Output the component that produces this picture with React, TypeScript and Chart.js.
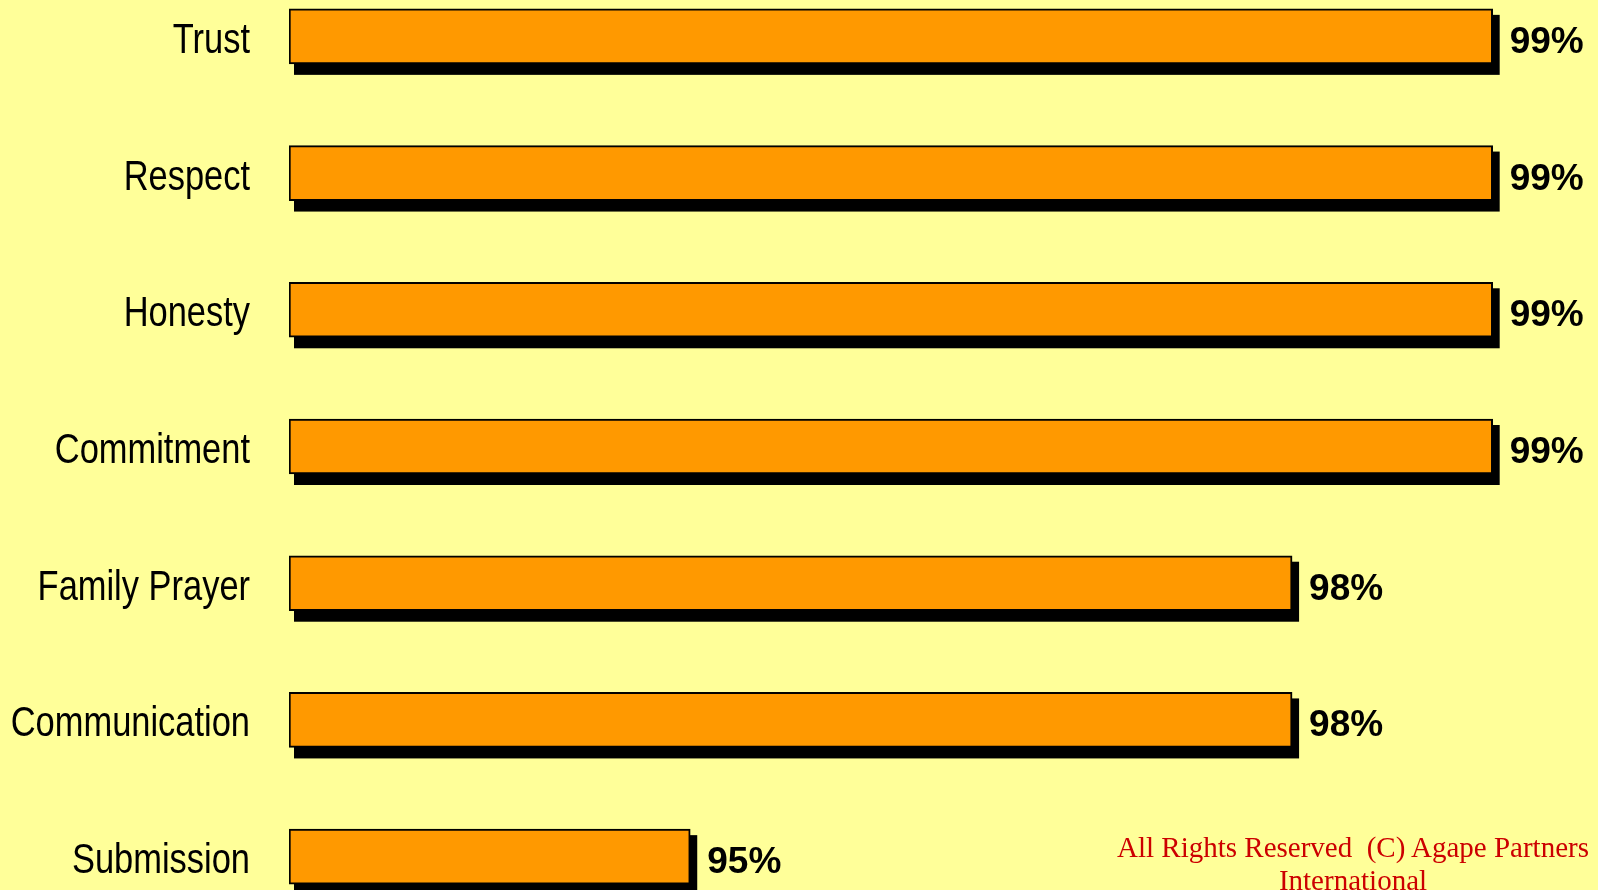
import React, { useEffect, useRef } from "react";
import { Chart, registerables } from "chart.js";

Chart.register(...registerables);

const categories = ["Trust", "Respect", "Honesty", "Commitment", "Family Prayer", "Communication", "Submission"];
const values = [99, 99, 99, 99, 98, 98, 95];
const valueLabels = ["99%", "99%", "99%", "99%", "98%", "98%", "95%"];
const footerText = "All Rights Reserved  (C) Agape Partners International";
const axisMin = 93;
const axisMax = 99.5;

const BG = "#FFFF99";
const BAR = "#FF9900";

const shadowPlugin = {
  id: "barShadow",
  beforeDatasetsDraw(chart: any) {
    const ctx = chart.ctx;
    const meta = chart.getDatasetMeta(0);
    ctx.save();
    ctx.fillStyle = "#000000";
    meta.data.forEach((bar: any) => {
      const p = bar.getProps(["x", "y", "base", "height"], true);
      const top = p.y - p.height / 2;
      const bottom = p.y + p.height / 2;
      ctx.fillRect(p.base + 5, top + 6, p.x + 7 - (p.base + 5), bottom + 11 - (top + 6));
    });
    ctx.restore();
  },
  afterDatasetsDraw(chart: any) {
    const ctx = chart.ctx;
    const meta = chart.getDatasetMeta(0);
    const yScale = chart.scales.y;
    ctx.save();
    ctx.fillStyle = "#000000";
    ctx.font = "bold 37px 'Liberation Sans', Arial, sans-serif";
    ctx.textAlign = "left";
    ctx.textBaseline = "alphabetic";
    meta.data.forEach((bar: any, i: number) => {
      const p = bar.getProps(["x", "y"], true);
      ctx.fillText(valueLabels[i], p.x + 17, p.y + 16.5);
    });
    ctx.font = "42px 'Liberation Sans', Arial, sans-serif";
    ctx.textAlign = "right";
    categories.forEach((c, i) => {
      const y = yScale.getPixelForValue(i);
      ctx.save();
      ctx.translate(250, y + 16.5);
      ctx.scale(0.82, 1);
      ctx.fillText(c, 0, 0);
      ctx.restore();
    });
    ctx.restore();
  },
};

export default function App() {
  const canvasRef = useRef<HTMLCanvasElement | null>(null);

  useEffect(() => {
    document.body.style.margin = "0";
    document.body.style.overflow = "hidden";
    document.body.style.background = BG;
    const canvas = canvasRef.current;
    if (!canvas) return;
    const chart = new Chart(canvas, {
      type: "bar",
      data: {
        labels: categories,
        datasets: [
          {
            data: values,
            base: axisMin,
            backgroundColor: BAR,
            borderColor: "#000000",
            borderWidth: 2,
            borderSkipped: false,
            barThickness: 55,
          },
        ],
      },
      options: {
        indexAxis: "y",
        animation: false,
        responsive: false,
        maintainAspectRatio: false,
        layout: { padding: { left: 289, right: 5, top: 0, bottom: 0 } },
        plugins: { legend: { display: false }, tooltip: { enabled: false } },
        scales: {
          x: { display: false, min: axisMin, max: axisMax },
          y: { display: false },
        },
      },
      plugins: [shadowPlugin],
    });
    return () => chart.destroy();
  }, []);

  return (
    <div style={{ position: "relative", width: 1598, height: 890, overflow: "hidden", background: BG }}>
      <canvas
        ref={canvasRef}
        width={1598}
        height={957}
        style={{ position: "absolute", left: 0, top: -32, width: 1598, height: 957 }}
      />
      <div
        style={{
          position: "absolute",
          left: 1103,
          top: 831,
          width: 500,
          textAlign: "center",
          fontFamily: "'Liberation Serif', 'Times New Roman', serif",
          fontSize: 29,
          lineHeight: "33px",
          color: "#CC0000",
          whiteSpace: "pre-wrap",
        }}
      >
        {footerText}
      </div>
    </div>
  );
}
